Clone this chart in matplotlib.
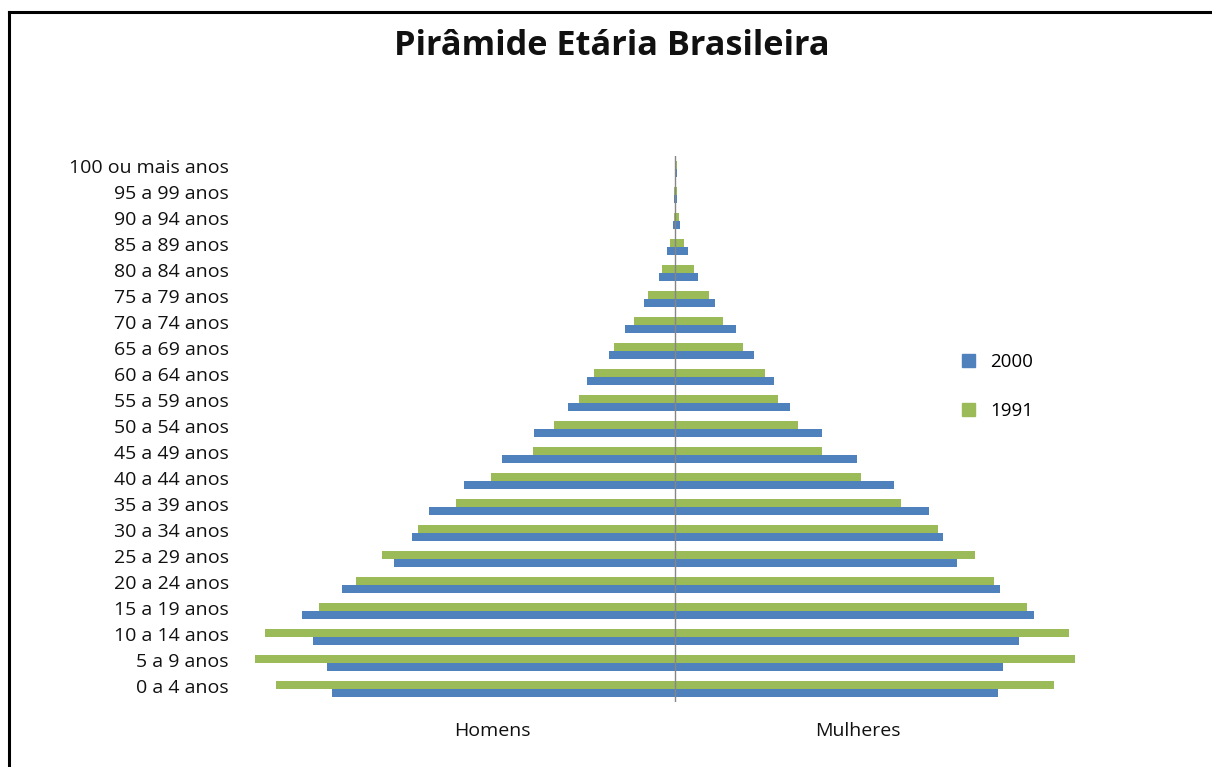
import numpy as np
from matplotlib import pyplot as plt
from matplotlib.patches import Patch
from matplotlib.lines import Line2D
from matplotlib.transforms import ScaledTranslation

# Faixas etárias (de baixo para cima)
faixas = ["0 a 4 anos", "5 a 9 anos", "10 a 14 anos", "15 a 19 anos", "20 a 24 anos",
          "25 a 29 anos", "30 a 34 anos", "35 a 39 anos", "40 a 44 anos", "45 a 49 anos",
          "50 a 54 anos", "55 a 59 anos", "60 a 64 anos", "65 a 69 anos", "70 a 74 anos",
          "75 a 79 anos", "80 a 84 anos", "85 a 89 anos", "90 a 94 anos", "95 a 99 anos",
          "100 ou mais anos"]

# População estimada a partir da figura (unidades relativas)
homens_2000 = [343, 348, 362, 373, 333, 281, 263, 246, 211, 173, 141, 107, 88, 66, 50, 31, 16, 8, 2, 1, 0.5]
homens_1991 = [399, 420, 410, 356, 319, 293, 257, 219, 184, 142, 121, 96, 81, 61, 41, 27, 13, 5, 1.5, 0.8, 0.5]
mulheres_2000 = [323, 328, 344, 359, 325, 282, 268, 254, 219, 182, 147, 115, 99, 79, 61, 40, 23, 13, 5, 1.5, 1.5]
mulheres_1991 = [379, 400, 394, 352, 319, 300, 263, 226, 186, 147, 123, 103, 90, 68, 48, 34, 19, 9, 4, 2, 2]

cor_2000 = "#4F81BD"
cor_1991 = "#9BBB59"

plt.rcParams['font.family'] = ['Open Sans', 'DejaVu Sans']

W, H = 1212, 767
fig = plt.figure(figsize=(W / 100, H / 100), dpi=100)
# área de plotagem em pixels: x 240..1110, y 156..702
ax = fig.add_axes([240 / W, (H - 702) / H, 870 / W, (702 - 156) / H])

y = np.arange(len(faixas))
h = 0.31

# Homens à esquerda (valores negativos), mulheres à direita
ax.barh(y + h / 2, -np.array(homens_1991), height=h, color=cor_1991)
ax.barh(y - h / 2, -np.array(homens_2000), height=h, color=cor_2000)
ax.barh(y + h / 2, mulheres_1991, height=h, color=cor_1991)
ax.barh(y - h / 2, mulheres_2000, height=h, color=cor_2000)

ax.set_xlim(-435, 435)
ax.set_ylim(-0.5, len(faixas) - 0.5)
ax.axvline(0, color="#868686", lw=1)

for s in ax.spines.values():
    s.set_visible(False)
ax.set_xticks([])
ax.set_yticks(y)
ax.set_yticklabels(faixas, fontsize=14, color="#111111")
ax.tick_params(axis="y", length=0, pad=8)
# sobe os rótulos 3 px
for lbl in ax.get_yticklabels():
    lbl.set_transform(lbl.get_transform() + ScaledTranslation(0, 3 / 100, fig.dpi_scale_trans))

# Rótulos Homens / Mulheres
ax.text(-183, -1.6, "Homens", ha="center", va="center", fontsize=14, color="#111111")
ax.text(183, -1.6, "Mulheres", ha="center", va="center", fontsize=14, color="#111111")

fig.text(612 / W, 1 - 46 / H, "Pirâmide Etária Brasileira", ha="center", va="center",
         fontsize=24.7, fontweight="bold", color="#111111")

handles = [Patch(color=cor_2000, label="2000"), Patch(color=cor_1991, label="1991")]
fig.legend(handles=handles, loc="upper left", bbox_to_anchor=(945 / W, 1 - 336 / H),
           frameon=False, fontsize=13.5, handlelength=0.7, handleheight=0.7,
           handletextpad=0.8, labelspacing=1.65)

# Moldura (topo e esquerda)
fig.add_artist(Line2D([9 / W, 1], [1 - 12 / H, 1 - 12 / H], color="black", lw=2.2))
fig.add_artist(Line2D([9 / W, 9 / W], [0, 1 - 12 / H], color="black", lw=2.2))

plt.savefig("out.png", dpi=100)
